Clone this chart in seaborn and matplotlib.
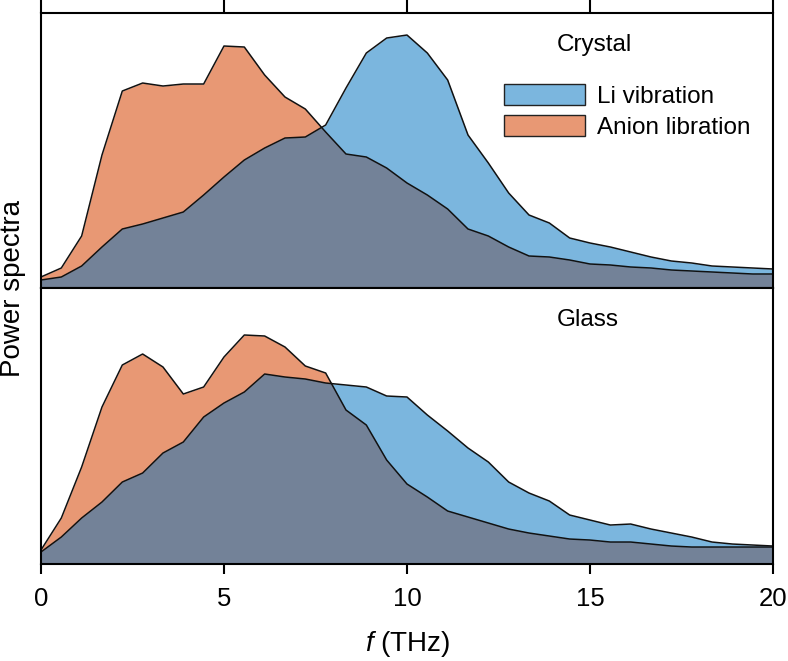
import numpy as np
import pandas as pd
import seaborn as sns
import matplotlib.pyplot as plt
from matplotlib.patches import Patch

# frequency grid (THz)
freq = np.linspace(0, 20, 37)

# power spectra, arbitrary units
crystal_li = [8, 11, 22, 41, 59, 64, 70, 76, 93, 111, 128, 140, 150, 151, 163, 200, 235, 250,
              253, 235, 208, 153, 125, 95, 73, 65, 50, 45, 41, 36, 31, 27, 25, 22, 21, 20, 19]
crystal_anion = [11, 20, 52, 133, 197, 205, 202, 204, 204, 242, 241, 213, 191, 179, 156, 134, 131, 120,
                 105, 93, 79, 59, 52, 41, 32, 31, 28, 24, 23, 21, 20, 18, 17, 16, 15, 14, 14]
glass_li = [12, 27, 46, 62, 82, 91, 111, 122, 147, 161, 172, 190, 187, 185, 181, 179, 177, 168,
            167, 149, 133, 116, 102, 82, 71, 63, 49, 44, 39, 40, 35, 31, 27, 22, 20, 19, 18]
glass_anion = [14, 46, 97, 157, 199, 210, 197, 170, 177, 207, 229, 228, 217, 198, 191, 154, 139, 104,
               80, 67, 53, 47, 41, 35, 31, 28, 25, 24, 22, 22, 20, 18, 17, 17, 17, 17, 17]

panels = ['Crystal', 'Glass']
labels = ['Li vibration', 'Anion libration']

blue = '#7bb6de'
orange = '#e89874'
overlap = '#738298'

sns.set_theme(style='ticks')
plt.rcParams['font.family'] = ['Liberation Sans', 'DejaVu Sans']
plt.rcParams['mathtext.fontset'] = 'custom'
plt.rcParams['mathtext.it'] = 'Liberation Sans:italic'
plt.rcParams['mathtext.rm'] = 'Liberation Sans'
plt.rcParams['axes.linewidth'] = 1.5
plt.rcParams['axes.edgecolor'] = 'black'
plt.rcParams['xtick.color'] = 'black'
plt.rcParams['text.color'] = 'black'

df = pd.DataFrame({
    'f': np.tile(freq, 4),
    'value': crystal_li + crystal_anion + glass_li + glass_anion,
    'mode': np.repeat(labels * 2, len(freq)),
    'panel': np.repeat(panels, 2 * len(freq)),
})

fig = plt.figure(figsize=(7.88, 6.61), dpi=100)
ax_top = fig.add_axes([0.052, 0.5643, 0.929, 0.4160])
ax_bot = fig.add_axes([0.052, 0.1467, 0.929, 0.4176])

fine = np.linspace(0, 20, 2001)
for ax, panel, ymax in [(ax_top, 'Crystal', 275), (ax_bot, 'Glass', 276)]:
    sub = df[df['panel'] == panel]
    li = sub[sub['mode'] == 'Li vibration']['value'].to_numpy()
    an = sub[sub['mode'] == 'Anion libration']['value'].to_numpy()
    ax.fill_between(freq, 0, an, color=orange, lw=0, zorder=1)
    ax.fill_between(freq, 0, li, color=blue, lw=0, zorder=1)
    common = np.minimum(np.interp(fine, freq, li), np.interp(fine, freq, an))
    ax.fill_between(fine, 0, common, color=overlap, lw=0, zorder=1.5)
    sns.lineplot(data=sub, x='f', y='value', units='mode', estimator=None,
                 color='#111111', lw=1.1, ax=ax, zorder=2, legend=False)
    ax.set_xlim(0, 20)
    ax.set_ylim(0, ymax)
    ax.set_yticks([])
    ax.set_xlabel('')
    ax.set_ylabel('')
    ax.text(0.705, 0.885, panel, transform=ax.transAxes, fontsize=17.5, va='center', ha='left')

ax_top.set_xticks([0, 5, 10, 15, 20])
ax_top.tick_params(axis='x', top=True, bottom=False, labeltop=False, labelbottom=False,
                   direction='out', length=10, width=1.5)
ax_bot.set_xticks([0, 5, 10, 15, 20])
ax_bot.tick_params(axis='x', direction='out', length=7.5, width=1.5, labelsize=18.5, pad=9)

handles = [Patch(facecolor=blue, edgecolor='#222222', lw=1),
           Patch(facecolor=orange, edgecolor='#222222', lw=1)]
ax_top.legend(handles, labels, loc='upper left', bbox_to_anchor=(0.633, 0.742), frameon=False,
              fontsize=17.5, handlelength=3.3, handleheight=0.95, handletextpad=0.5,
              labelspacing=0.3, borderpad=0, borderaxespad=0)

fig.text(0.016, 0.564, 'Power spectra', rotation=90, fontsize=20, ha='center', va='center')
fig.text(0.517, 0.025, '$f$ (THz)', fontsize=20, ha='center', va='center')

fig.savefig('out.png', dpi=100)
